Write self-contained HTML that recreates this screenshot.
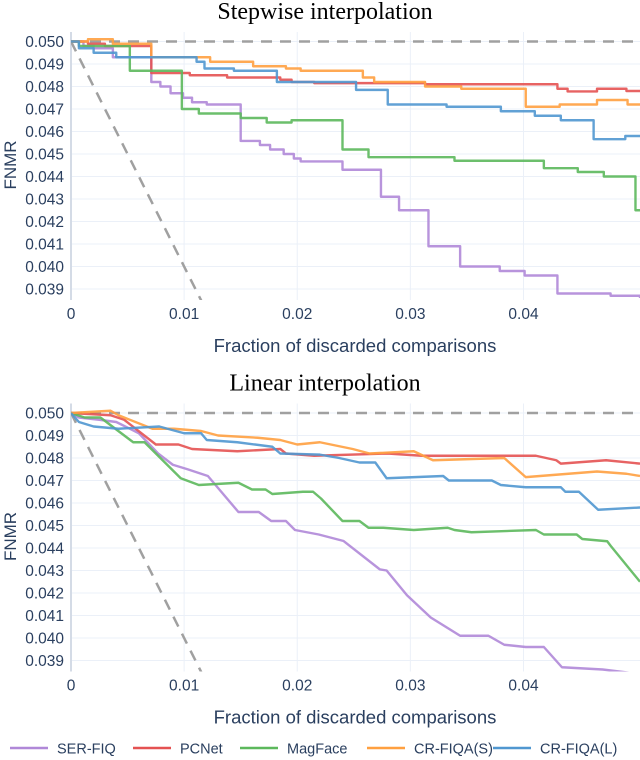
<!DOCTYPE html>
<html><head><meta charset="utf-8">
<style>
html,body{margin:0;padding:0;background:#fff;}
svg{display:block;}
text{font-family:"Liberation Sans","DejaVu Sans",sans-serif;fill:#2a3f5f;}
.ttl{font-family:"Liberation Serif",serif;fill:#000;font-size:24px;}
</style></head>
<body>
<svg id="chart" width="640" height="760" viewBox="0 0 640 760"></svg>
<script>
// ---- data ----
const seriesNames = ["SER-FIQ","PCNet","MagFace","CR-FIQA(S)","CR-FIQA(L)"];
const seriesColors = ["#b088d8","#e45252","#5cb85c","#ffa040","#5097d0"];
const xTicks = [0,0.01,0.02,0.03,0.04];
const xTickLabels = ["0","0.01","0.02","0.03","0.04"];
const yTicks = [0.050,0.049,0.048,0.047,0.046,0.045,0.044,0.043,0.042,0.041,0.040,0.039];
const yTickLabels = ["0.050","0.049","0.048","0.047","0.046","0.045","0.044","0.043","0.042","0.041","0.040","0.039"];
// stepwise (top)
const stepSER = [[0,0.0500],[0.0011,0.0498],[0.002,0.0497],[0.0037,0.0493],[0.0071,0.0482],[0.0079,0.0480],[0.0088,0.0477],[0.0099,0.0475],[0.0107,0.0473],[0.012,0.0472],[0.015,0.04558],[0.0167,0.0454],[0.0176,0.0452],[0.0188,0.0450],[0.0197,0.0448],[0.0203,0.04467],[0.0240,0.0443],[0.0274,0.0431],[0.029,0.0425],[0.0316,0.0409],[0.0344,0.0400],[0.0379,0.0398],[0.0401,0.0396],[0.0430,0.0388],[0.0477,0.0387],[0.0503,0.0386]];
const stepPCNet = [[0,0.0500],[0.0015,0.0499],[0.003,0.0498],[0.0071,0.0486],[0.0105,0.0485],[0.0138,0.0484],[0.0185,0.0483],[0.0195,0.0482],[0.0215,0.04815],[0.0313,0.0481],[0.0430,0.0479],[0.0439,0.04778],[0.0465,0.0479],[0.0491,0.0478],[0.0503,0.0478]];
const stepMag = [[0,0.0500],[0.0007,0.0498],[0.0052,0.0487],[0.0098,0.0470],[0.0113,0.0468],[0.0150,0.0466],[0.0173,0.0464],[0.0195,0.0465],[0.0240,0.0452],[0.0263,0.04486],[0.0339,0.0447],[0.0418,0.04437],[0.0448,0.0442],[0.0471,0.0440],[0.0499,0.0425],[0.0503,0.0425]];
const stepCRS = [[0,0.0500],[0.0015,0.0501],[0.0037,0.0499],[0.0071,0.0493],[0.0123,0.0491],[0.0161,0.0489],[0.019,0.0488],[0.0203,0.0487],[0.0258,0.0484],[0.0268,0.0482],[0.0313,0.0480],[0.0345,0.0479],[0.0402,0.0471],[0.0432,0.0472],[0.0465,0.0474],[0.0492,0.0472],[0.0503,0.0472]];
const stepCRL = [[0,0.0500],[0.0007,0.0497],[0.002,0.0495],[0.004,0.0493],[0.0111,0.0491],[0.0118,0.0488],[0.0144,0.0487],[0.0182,0.0482],[0.0252,0.04785],[0.028,0.0472],[0.0332,0.0471],[0.0380,0.0469],[0.0410,0.0467],[0.0433,0.0465],[0.0462,0.04566],[0.049,0.0458],[0.0503,0.0458]];
// linear (bottom)
const linSER = [[0,0.0500],[0.0007,0.0498],[0.0025,0.0497],[0.004,0.0496],[0.006,0.0491],[0.0077,0.0482],[0.009,0.0477],[0.0103,0.0475],[0.0121,0.0472],[0.0148,0.0456],[0.0166,0.0456],[0.0177,0.0452],[0.019,0.0452],[0.0198,0.0448],[0.0219,0.0446],[0.0241,0.04431],[0.0273,0.04305],[0.0279,0.0430],[0.0297,0.0419],[0.0318,0.04091],[0.0344,0.0401],[0.0369,0.0401],[0.0383,0.0397],[0.0402,0.0396],[0.0418,0.0396],[0.0434,0.0387],[0.047,0.0386],[0.0503,0.0384]];
const linPCNet = [[0,0.0500],[0.0035,0.0499],[0.0047,0.0497],[0.0075,0.0486],[0.0095,0.0486],[0.0107,0.0484],[0.0147,0.0483],[0.0185,0.0484],[0.019,0.0482],[0.0215,0.0481],[0.028,0.0482],[0.031,0.0481],[0.0411,0.0481],[0.0429,0.0479],[0.0433,0.04775],[0.0473,0.0479],[0.0503,0.04775]];
const linMag = [[0,0.0500],[0.0012,0.0498],[0.0026,0.0498],[0.0055,0.0487],[0.0065,0.0487],[0.0097,0.0471],[0.0113,0.0468],[0.0148,0.0469],[0.016,0.0466],[0.0172,0.0466],[0.0178,0.0464],[0.0205,0.0465],[0.0214,0.0465],[0.0221,0.0462],[0.0240,0.0452],[0.0255,0.0452],[0.0263,0.0449],[0.0276,0.0449],[0.0303,0.0448],[0.0333,0.0449],[0.0339,0.0448],[0.0354,0.0447],[0.0411,0.0448],[0.0418,0.0446],[0.0447,0.0446],[0.0452,0.0444],[0.0474,0.0443],[0.0477,0.0441],[0.0503,0.0425]];
const linCRS = [[0,0.0500],[0.0035,0.0501],[0.0042,0.0499],[0.0072,0.0493],[0.0091,0.0493],[0.0115,0.0492],[0.013,0.0490],[0.0165,0.0489],[0.0185,0.0488],[0.02,0.0486],[0.022,0.0487],[0.0249,0.0484],[0.0264,0.0482],[0.0303,0.0483],[0.032,0.0479],[0.0383,0.0480],[0.0402,0.04715],[0.0465,0.0474],[0.0491,0.0473],[0.0503,0.0472]];
const linCRL = [[0,0.0500],[0.0007,0.0496],[0.002,0.0494],[0.0042,0.0493],[0.0078,0.0494],[0.01,0.0491],[0.0115,0.0491],[0.012,0.0488],[0.0147,0.0487],[0.0178,0.0485],[0.0185,0.0482],[0.022,0.04815],[0.0237,0.0480],[0.0255,0.0478],[0.0269,0.0478],[0.0279,0.0471],[0.0329,0.0472],[0.0334,0.0470],[0.0372,0.0470],[0.0380,0.0468],[0.0402,0.0467],[0.0433,0.0467],[0.0437,0.0465],[0.0449,0.0465],[0.0466,0.0457],[0.0503,0.0458]];
const stepSeries = [stepSER,stepPCNet,stepMag,stepCRS,stepCRL];
const linSeries = [linSER,linPCNet,linMag,linCRS,linCRL];

const NS = "http://www.w3.org/2000/svg";
const svg = document.getElementById('chart');
function mk(tag, attrs, parent){const e=document.createElementNS(NS,tag);for(const k in attrs)e.setAttribute(k,attrs[k]);(parent||svg).appendChild(e);return e;}

const X0=71, X1=640, XMAX=0.0503;
function sx(v){return X0+(v/XMAX)*(X1-X0);}

function panel(top, title, series, stepped, key){
  const y050=top+41.5;
  const sy=v=>y050+(0.050-v)/0.001*22.5;
  const ptop=top+32, pbot=top+300;
  const g=mk('g',{});
  
  
  const t=mk('text',{x:325,y:top+19,'text-anchor':'middle',class:'ttl'},g);
  t.textContent=title;
  
  
  const clipId='clip-'+key;
  const cp=mk('clipPath',{id:clipId},g);
  mk('rect',{x:X0,y:ptop,width:X1-X0,height:pbot-ptop},cp);
  yTicks.forEach((v,i)=>{
    const l=mk('line',{x1:X0,x2:X1,y1:sy(v),y2:sy(v),stroke:'#ebf0f8','stroke-width':1},g);
    
    
    const tx=mk('text',{x:64,y:sy(v)+5.5,'text-anchor':'end','font-size':15.5},g);
    tx.textContent=yTickLabels[i];
    
    
  });
  xTicks.forEach((v,i)=>{
    if(i>0){const l=mk('line',{x1:sx(v),x2:sx(v),y1:ptop,y2:pbot,stroke:'#ebf0f8','stroke-width':1},g);
    
    }
    const tx=mk('text',{x:sx(v),y:pbot+19,'text-anchor':'middle','font-size':15.5},g);
    tx.textContent=xTickLabels[i];
    
    
  });
  const z=mk('line',{x1:X0,x2:X0,y1:ptop,y2:pbot,stroke:'#d4dbe6','stroke-width':2},g);
  
  
  const yl=mk('text',{x:0,y:0,'text-anchor':'middle','font-size':17,transform:`translate(16,${top+165}) rotate(-90)`},g);
  yl.textContent='FNMR';
  
  
  const xl=mk('text',{x:355,y:top+352,'text-anchor':'middle','font-size':18.5},g);
  xl.textContent='Fraction of discarded comparisons';
  
  
  const cg=mk('g',{'clip-path':`url(#${clipId})`},g);
  const h=mk('line',{x1:X0,x2:X1,y1:sy(0.050),y2:sy(0.050),stroke:'#a0a0a0','stroke-width':2.5,'stroke-dasharray':'11,8'},cg);
  
  
  const d=mk('line',{x1:sx(0),y1:sy(0.050),x2:sx(0.0125),y2:sy(0.0375),stroke:'#a0a0a0','stroke-width':2.5,'stroke-dasharray':'11,8'},cg);
  
  
  series.forEach((s,i)=>{
    let dstr='';
    s.forEach((p,j)=>{
      if(j===0) dstr+=`M${sx(p[0])},${sy(p[1])}`;
      else if(stepped) dstr+=`H${sx(p[0])}V${sy(p[1])}`;
      else dstr+=`L${sx(p[0])},${sy(p[1])}`;
    });
    const pth=mk('path',{d:dstr,fill:'none',stroke:seriesColors[i],'stroke-width':2.4,'stroke-opacity':0.9,'stroke-linejoin':'round'},cg);
    
    
  });
}
panel(0,'Stepwise interpolation',stepSeries,true,'stepwise');
panel(371.5,'Linear interpolation',linSeries,false,'linear');

const legX=[10,133,240,367,493];
seriesNames.forEach((n,i)=>{
  const g=mk('g',{});
  
  
  mk('line',{x1:legX[i],x2:legX[i]+38,y1:748,y2:748,stroke:seriesColors[i],'stroke-width':2.5},g);
  const t=mk('text',{x:legX[i]+47,y:753.5,'font-size':14.5},g);
  t.textContent=n;
});
</script>
</body></html>
